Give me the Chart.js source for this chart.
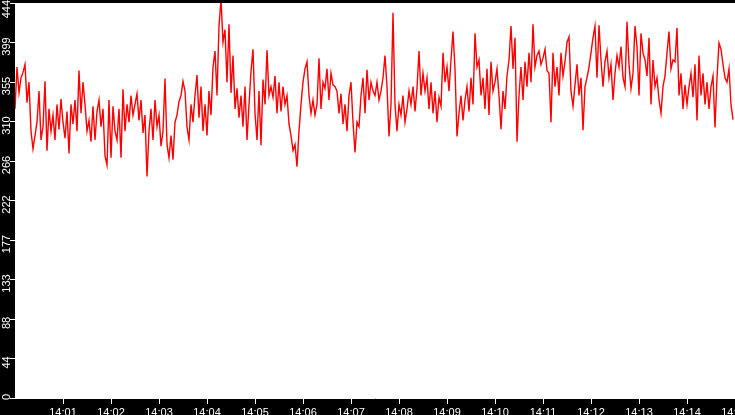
<!DOCTYPE html>
<html>
<head>
<meta charset="utf-8">
<script src="https://cdn.jsdelivr.net/npm/chart.js@4.4.1/dist/chart.umd.min.js"></script>
<style>
  html, body { margin: 0; padding: 0; background: #000; }
  canvas { display: block; }
</style>
</head>
<body>
<canvas id="c" width="735" height="415"></canvas>
<script>
// sample spacing in seconds since 14:00:00
const sampleStep = 2.5;

const values = [
  325,372,343,360,366,375,332,355,300,280,295,310,345,290,305,356,278,325,300,318,
  290,330,302,336,310,292,322,275,330,308,335,300,368,320,355,330,300,312,288,328,
  290,322,335,305,325,272,262,335,270,328,300,290,325,270,347,300,330,310,340,318,
  330,342,312,335,298,318,249,300,325,290,335,305,318,283,300,359,285,270,295,268,
  310,318,333,340,356,345,305,290,330,310,340,363,315,350,300,330,295,345,318,372,
  390,340,418,448,400,414,355,420,343,385,325,348,315,340,305,350,290,330,367,392,
  320,290,345,284,358,330,391,340,350,338,362,320,355,322,350,330,340,308,295,278,
  285,260,300,330,355,370,378,340,320,335,318,330,382,325,355,348,370,335,365,352,
  350,345,320,342,308,330,300,340,355,310,276,310,305,340,360,320,369,335,355,345,
  340,355,335,345,360,385,350,294,330,433,330,300,330,318,340,310,325,345,330,350,
  322,348,390,340,365,345,360,325,355,320,345,310,338,328,388,355,372,345,380,412,
  370,294,320,340,312,335,350,322,360,330,410,372,380,340,360,325,370,318,378,345,
  355,370,340,302,345,325,362,380,418,370,405,288,340,372,335,378,350,388,355,420,
  372,385,390,375,382,392,368,365,310,388,350,372,340,388,362,378,400,406,345,328,
  352,375,340,360,301,350,360,372,388,405,418,360,419,380,350,378,390,360,375,335,
  365,385,372,395,360,350,423,375,348,365,418,395,340,410,388,380,362,405,330,380,
  350,360,335,320,350,362,388,412,370,380,378,416,340,365,325,352,330,350,365,338,
  375,312,385,340,365,330,355,325,350,362,304,360,399,392,375,360,355,370,330,313
];

const yTickValues = [0, 44.4, 88.8, 133.2, 177.6, 222, 266.4, 310.8, 355.2, 399.6, 444];
const yTickLabels = ['0','44','88','133','177','222','266','310','355','399','444'];
const xTickSeconds = [60,120,180,240,300,360,420,480,540,600,660,720,780,840,900];
const xTickLabels = ['14:01','14:02','14:03','14:04','14:05','14:06','14:07','14:08','14:09','14:10','14:11','14:12','14:13','14:14','14:15'];

const points = values.map((v, i) => ({ x: i * sampleStep, y: v }));

const fontFamily = '"Liberation Sans", Arial, sans-serif';
const font = { family: fontFamily, size: 11 };

const bgPlugin = {
  id: 'bg',
  beforeDraw(chart) {
    const { ctx, chartArea: a } = chart;
    ctx.save();
    ctx.fillStyle = '#000';
    ctx.fillRect(0, 0, chart.width, chart.height);
    ctx.fillStyle = '#fff';
    ctx.fillRect(a.left, a.top, a.right - a.left, a.bottom - a.top);
    ctx.restore();
  }
};

// vertical (rotated) y tick labels, placed from the y scale's own pixel mapping
const yLabelPlugin = {
  id: 'yLabels',
  afterDraw(chart) {
    const { ctx } = chart;
    const s = chart.scales.y;
    ctx.save();
    ctx.fillStyle = '#fff';
    ctx.font = '11px ' + fontFamily;
    ctx.textAlign = 'center';
    ctx.textBaseline = 'alphabetic';
    yTickValues.forEach((v, i) => {
      const label = yTickLabels[i];
      const half = ctx.measureText(label).width / 2;
      let cy = s.getPixelForValue(v) + 4;
      cy = Math.max(cy, half);
      cy = Math.min(cy, s.bottom + 2 - half);
      ctx.save();
      ctx.translate(10, cy);
      ctx.rotate(-Math.PI / 2);
      ctx.fillText(label, 0, 0);
      ctx.restore();
    });
    ctx.restore();
  }
};

new Chart(document.getElementById('c'), {
  type: 'line',
  data: {
    datasets: [{
      data: points,
      borderColor: '#ff0000',
      borderWidth: 1.4,
      pointRadius: 0,
      tension: 0,
      fill: false
    }]
  },
  plugins: [bgPlugin, yLabelPlugin],
  options: {
    responsive: false,
    animation: false,
    devicePixelRatio: 1,
    layout: { padding: { top: 3, left: 0, right: 0, bottom: 0 } },
    plugins: { legend: { display: false }, tooltip: { enabled: false } },
    scales: {
      x: {
        type: 'linear',
        min: 0,
        max: 900,
        afterBuildTicks: s => { s.ticks = xTickSeconds.map(v => ({ value: v })); },
        afterFit: s => { s.height = 17; s.paddingLeft = 0; s.paddingRight = 0; },
        grid: { drawOnChartArea: false, color: '#fff', tickLength: 6, lineWidth: 1 },
        border: { color: '#fff', width: 1 },
        ticks: {
          color: '#fff', font, padding: 2, autoSkip: false, maxRotation: 0, minRotation: 0,
          callback: v => xTickLabels[xTickSeconds.indexOf(v)]
        }
      },
      y: {
        min: 0,
        max: 444,
        afterBuildTicks: s => { s.ticks = yTickValues.map(v => ({ value: v })); },
        afterFit: s => { s.width = 15; s.paddingTop = 0; s.paddingBottom = 0; },
        grid: { drawOnChartArea: false, color: '#fff', tickLength: 5, lineWidth: 1 },
        border: { color: '#fff', width: 1 },
        ticks: { display: false }
      }
    }
  }
});
</script>
</body>
</html>
